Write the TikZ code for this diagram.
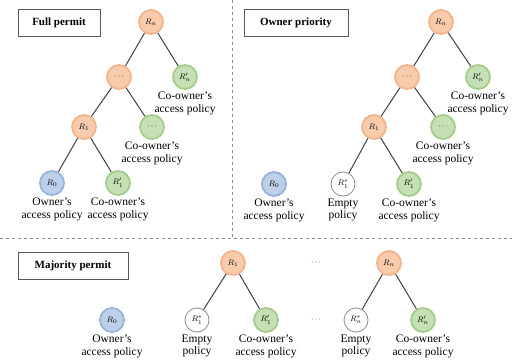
\documentclass[tikz,border=0pt]{standalone}
\usepackage{fontspec}
\setmainfont{Liberation Serif}
\definecolor{orange1}{HTML}{F8CBAD}
\definecolor{orange2}{HTML}{F2B48A}
\definecolor{green1}{HTML}{C5E0B4}
\definecolor{green2}{HTML}{A6CC8A}
\definecolor{blue1}{HTML}{BDD0EA}
\definecolor{blue2}{HTML}{98B3DA}
\definecolor{gray1}{HTML}{8C8C8C}
\usetikzlibrary{positioning}

\begin{document}
\begin{tikzpicture}[
  x=1pt, y=-1pt,
  own/.style    = {circle, draw=blue2, fill=blue1, line width=1.8pt,
                   minimum size=24pt, inner sep=0pt, font=\footnotesize},
  ext/.style    = {own, draw=orange2, fill=orange1},
  co/.style     = {own, draw=green2, fill=green1},
  empty/.style  = {own, draw=gray1, fill=white, line width=0.8pt},
  txt/.style    = {align=center, inner sep=1pt, on grid=false,
                   font=\fontsize{11.5}{12.5}\selectfont},
  title/.style  = {draw=black!65, line width=0.7pt, inner sep=5pt,
                   minimum height=27pt, font=\fontsize{11}{12}\selectfont\bfseries},
  edge/.style   = {draw=black!75, line width=1pt},
  sep/.style    = {draw=gray1, dashed, line width=0.6pt},
  on grid
]
\useasboundingbox (0,0) rectangle (512,361);

% separators
\draw[sep] (0,238) -- (512,238);
\draw[sep] (232,0) -- (232,238);

% Full permit (top-left)
\node[title, minimum width=82pt] (t1) at (59,23) {Full permit};
\node[ext]                                   (a)   at (151,22) {$R_n$};
\node[ext, below left=55pt and 32pt of a]    (ad)  {$\cdots$};
\node[co,  below right=55pt and 34pt of a]   (acn) {$R'_n$};
\node[ext, below left=50pt and 35pt of ad]   (a1)  {$R_1$};
\node[co,  below right=50pt and 33pt of ad]  (acd) {$\cdots$};
\node[own, below left=56pt and 32pt of a1]   (a0)  {$R_0$};
\node[co,  below right=56pt and 34pt of a1]  (ac1) {$R'_1$};
\node[txt, below=1pt of acn] {Co-owner's\\access policy};
\node[txt, below=1pt of acd] {Co-owner's\\access policy};
\node[txt, below=1pt of a0]  {Owner's\\access policy};
\node[txt, below=1pt of ac1] {Co-owner's\\access policy};
\draw[edge] (a) -- (ad);  \draw[edge] (a) -- (acn);
\draw[edge] (ad) -- (a1); \draw[edge] (ad) -- (acd);
\draw[edge] (a1) -- (a0); \draw[edge] (a1) -- (ac1);

% Owner priority (top-right)
\node[title, minimum width=104pt] (t2) at (296,23) {Owner priority};
\node[ext]                                   (b)   at (441,22) {$R_n$};
\node[ext, below left=55pt and 34pt of b]    (bd)  {$\cdots$};
\node[co,  below right=55pt and 37pt of b]   (bcn) {$R'_n$};
\node[ext, below left=50pt and 33pt of bd]   (b1)  {$R_1$};
\node[co,  below right=50pt and 36pt of bd]  (bcd) {$\cdots$};
\node[empty, below left=57pt and 31pt of b1] (be1) {$R^*_1$};
\node[co,  below right=57pt and 35pt of b1]  (bc1) {$R'_1$};
\node[own]                                   (b0)  at (274,184) {$R_0$};
\node[txt, below=1pt of bcn] {Co-owner's\\access policy};
\node[txt, below=1pt of bcd] {Co-owner's\\access policy};
\node[txt, below=1pt of b0]  {Owner's\\access policy};
\node[txt, below=1pt of be1] {Empty\\policy};
\node[txt, below=1pt of bc1] {Co-owner's\\access policy};
\draw[edge] (b) -- (bd);  \draw[edge] (b) -- (bcn);
\draw[edge] (bd) -- (b1); \draw[edge] (bd) -- (bcd);
\draw[edge] (b1) -- (be1); \draw[edge] (b1) -- (bc1);

% Majority permit (bottom)
\node[title, minimum width=110pt] (t3) at (73,266) {Majority permit};
\node[own]                                   (m0)  at (112,320) {$R_0$};
\node[ext]                                   (m1)  at (233,263) {$R_1$};
\node[empty, below left=57pt and 36pt of m1] (me1) {$R^*_1$};
\node[co,  below right=57pt and 33pt of m1]  (mc1) {$R'_1$};
\node[ext]                                   (mn)  at (389,263) {$R_n$};
\node[empty, below left=57pt and 33pt of mn] (men) {$R^*_n$};
\node[co,  below right=57pt and 34pt of mn]  (mcn) {$R'_n$};
\node[font=\footnotesize] (md1) at (316,263) {$\cdots$};
\node[font=\footnotesize] (md2) at (316,320) {$\cdots$};
\node[txt, below=1pt of m0]  {Owner's\\access policy};
\node[txt, below=1pt of me1] {Empty\\policy};
\node[txt, below=1pt of mc1] {Co-owner's\\access policy};
\node[txt, below=1pt of men] {Empty\\policy};
\node[txt, below=1pt of mcn] {Co-owner's\\access policy};
\draw[edge] (m1) -- (me1); \draw[edge] (m1) -- (mc1);
\draw[edge] (mn) -- (men); \draw[edge] (mn) -- (mcn);

\end{tikzpicture}
\end{document}
